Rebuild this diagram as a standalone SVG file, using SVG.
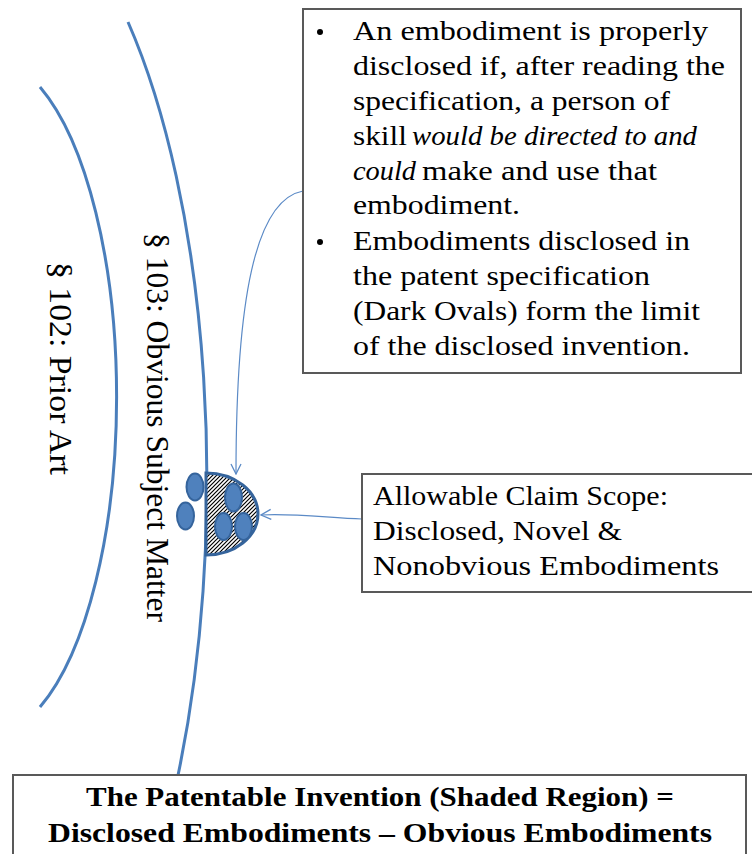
<svg xmlns="http://www.w3.org/2000/svg" width="752" height="854" viewBox="0 0 752 854">
<defs>
<style>
.arc{fill:none;stroke:#4a7ebb;stroke-width:3}
.box{fill:#fff;stroke:#595959;stroke-width:2}
.t{font-family:"Liberation Serif","Times New Roman",serif;font-size:27px;fill:#000}
.i{font-style:italic}
.b{font-family:"Liberation Serif","Times New Roman",serif;font-size:28px;font-weight:bold;fill:#000}
.r{font-family:"Liberation Serif","Times New Roman",serif;font-size:32px;fill:#000}
.con{fill:none;stroke:#5b8ac6;stroke-width:1.2}
.dot{fill:#4f81bd;stroke:#35649c;stroke-width:2}
</style>
<pattern id="hatch" patternUnits="userSpaceOnUse" width="4" height="4">
<rect width="4" height="4" fill="#fff"/>
<path d="M-1,1 L1,-1 M0,4 L4,0 M3,5 L5,3" stroke="#000" stroke-width="1.2"/>
</pattern>
<marker id="arr" viewBox="0 0 12 12" refX="11" refY="6" markerWidth="12" markerHeight="12" markerUnits="userSpaceOnUse" orient="auto">
<path d="M1,1 L11,6 L1,11" fill="none" stroke="#5b8ac6" stroke-width="1.3"/>
</marker>
</defs>

<g id="prior-art">
<path class="arc" d="M40,87 A130,340 0 0,1 40,707"/>
<text class="r" transform="translate(50,262) rotate(90)" textLength="213" lengthAdjust="spacingAndGlyphs">§ 102:  Prior Art</text>
</g>

<g id="obvious-subject-matter">
<path class="arc" d="M128,22 A223,600 0 0,1 177,780"/>
<text class="r" transform="translate(147,233) rotate(90)" textLength="389" lengthAdjust="spacingAndGlyphs">§ 103:  Obvious Subject Matter</text>
</g>

<g id="embodiments">
<path d="M206,473 A52,41 0 0,1 206,555 Z" fill="url(#hatch)" stroke="#35649c" stroke-width="3"/>
<ellipse class="dot" cx="195" cy="487" rx="8.5" ry="13.5"/>
<ellipse class="dot" cx="185.5" cy="516" rx="8.5" ry="13.5"/>
<ellipse class="dot" cx="233.5" cy="497.5" rx="8.5" ry="14"/>
<ellipse class="dot" cx="223.5" cy="526.5" rx="8.5" ry="13.5"/>
<ellipse class="dot" cx="243.5" cy="526.5" rx="8.5" ry="13.5"/>
</g>

<g id="connectors">
<path class="con" d="M303,191 C255,200 236,300 236,474" marker-end="url(#arr)"/>
<path class="con" d="M362,519 C330,518 292,513 261,515" marker-end="url(#arr)"/>
</g>

<g id="disclosure-box">
<rect class="box" x="303" y="9" width="438" height="364"/>
<circle cx="320" cy="32" r="3" fill="#000"/>
<circle cx="320" cy="242" r="3" fill="#000"/>
<text class="t" x="353" y="40" textLength="355" lengthAdjust="spacingAndGlyphs">An embodiment is properly</text>
<text class="t" x="353" y="75" textLength="372" lengthAdjust="spacingAndGlyphs">disclosed if, after reading the</text>
<text class="t" x="353" y="110" textLength="317" lengthAdjust="spacingAndGlyphs">specification, a person of</text>
<text class="t" x="353" y="145" textLength="54" lengthAdjust="spacingAndGlyphs">skill</text>
<text class="t i" x="412" y="145" textLength="285" lengthAdjust="spacingAndGlyphs">would be directed to and</text>
<text class="t i" x="353" y="180" textLength="63" lengthAdjust="spacingAndGlyphs">could</text>
<text class="t" x="422" y="180" textLength="235" lengthAdjust="spacingAndGlyphs">make and use that</text>
<text class="t" x="353" y="214" textLength="167" lengthAdjust="spacingAndGlyphs">embodiment.</text>
<text class="t" x="353" y="250" textLength="337" lengthAdjust="spacingAndGlyphs">Embodiments disclosed in</text>
<text class="t" x="353" y="285" textLength="297" lengthAdjust="spacingAndGlyphs">the patent specification</text>
<text class="t" x="353" y="320" textLength="347" lengthAdjust="spacingAndGlyphs">(Dark Ovals) form the limit</text>
<text class="t" x="353" y="355" textLength="337" lengthAdjust="spacingAndGlyphs">of the disclosed invention.</text>
</g>

<g id="claim-scope-box">
<rect class="box" x="362" y="474" width="394" height="118"/>
<text class="t" x="373" y="505" textLength="295" lengthAdjust="spacingAndGlyphs">Allowable Claim Scope:</text>
<text class="t" x="373" y="540" textLength="249" lengthAdjust="spacingAndGlyphs">Disclosed, Novel &amp;</text>
<text class="t" x="373" y="575" textLength="346" lengthAdjust="spacingAndGlyphs">Nonobvious Embodiments</text>
</g>

<g id="summary-box">
<rect class="box" x="13" y="775" width="733" height="90"/>
<text class="b" x="380" y="806" text-anchor="middle" textLength="588" lengthAdjust="spacingAndGlyphs">The Patentable Invention (Shaded Region) =</text>
<text class="b" x="380" y="842" text-anchor="middle" textLength="664" lengthAdjust="spacingAndGlyphs">Disclosed Embodiments  – Obvious Embodiments</text>
</g>
</svg>
